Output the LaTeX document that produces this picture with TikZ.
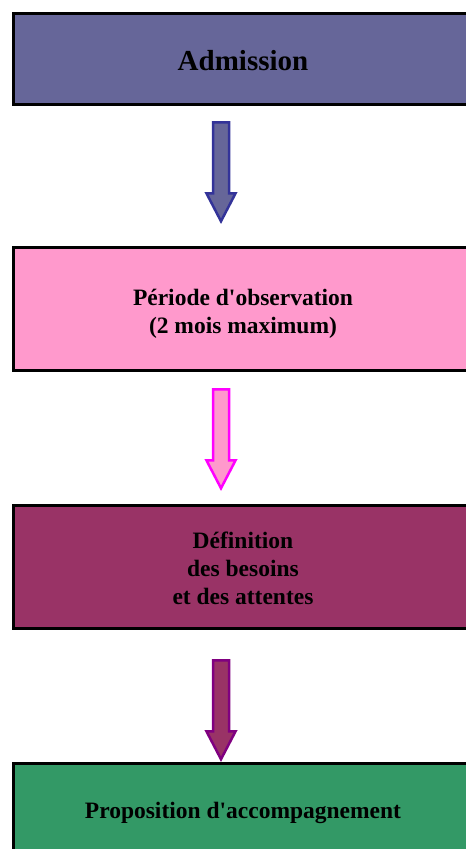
\documentclass[tikz,border=0pt]{standalone}
\usepackage{fontspec}
\setmainfont{Liberation Serif}
\usepackage{xcolor}
\usetikzlibrary{positioning,shapes.arrows}
\definecolor{bleuadm}{HTML}{666699}
\definecolor{bleufonce}{HTML}{333399}
\definecolor{roseobs}{HTML}{FF99CC}
\definecolor{magentaobs}{HTML}{FF00FF}
\definecolor{prunedef}{HTML}{993366}
\definecolor{violetdef}{HTML}{800080}
\definecolor{vertprop}{HTML}{339966}
\tikzset{
  etape/.style={draw=black, line width=3pt, minimum width=459pt, inner sep=0pt},
  texte/.style={align=center, inner sep=0pt, font=\bfseries\fontsize{23.5}{28}\selectfont},
  fleche/.style={single arrow, shape border rotate=270, minimum height=99pt,
    minimum width=27pt, single arrow head extend=6.5pt, single arrow tip angle=55,
    inner sep=6.75pt, line width=2.5pt, anchor=tail}
}
\begin{document}
\begin{tikzpicture}[x=1pt,y=1pt]
			\useasboundingbox (0,0) rectangle (466,-849);
			\clip (0,0) rectangle (466,-849);
			% Les étapes
			\node (adm) [etape, fill=bleuadm, minimum height=91.5pt] at (243,-58.75) {};
			\node (obs) [etape, fill=roseobs, minimum height=123pt, below=140pt of adm] {};
			\node (def) [etape, fill=prunedef, minimum height=123pt, below=132pt of obs] {};
			\node (prop) [etape, fill=vertprop, minimum height=91.5pt, below=132pt of def] {};
			% Les textes
			\node (t1) [texte, font=\bfseries\fontsize{29}{33}\selectfont] at ([yshift=-2pt]adm.center) {Admission};
			\node (t2) [texte] at ([yshift=-5pt]obs.center) {Période d\textquotesingle observation\\(2 mois maximum)};
			\node (t3) [texte] at ([yshift=-1.5pt]def.center) {Définition\\des besoins\\et des attentes};
			\node (t4) [texte] at ([yshift=-3.5pt]prop.center) {Proposition d\textquotesingle accompagnement};
			% Les flèches
			\node (f1) [fleche, fill=bleuadm, draw=bleufonce] at ([xshift=-22pt,yshift=-15pt]adm.south) {};
			\node (f2) [fleche, fill=roseobs, draw=magentaobs] at ([xshift=-22pt,yshift=-16pt]obs.south) {};
			\node (f3) [fleche, fill=prunedef, draw=violetdef] at ([xshift=-22pt,yshift=-29pt]def.south) {};
		\end{tikzpicture}
\end{document}
